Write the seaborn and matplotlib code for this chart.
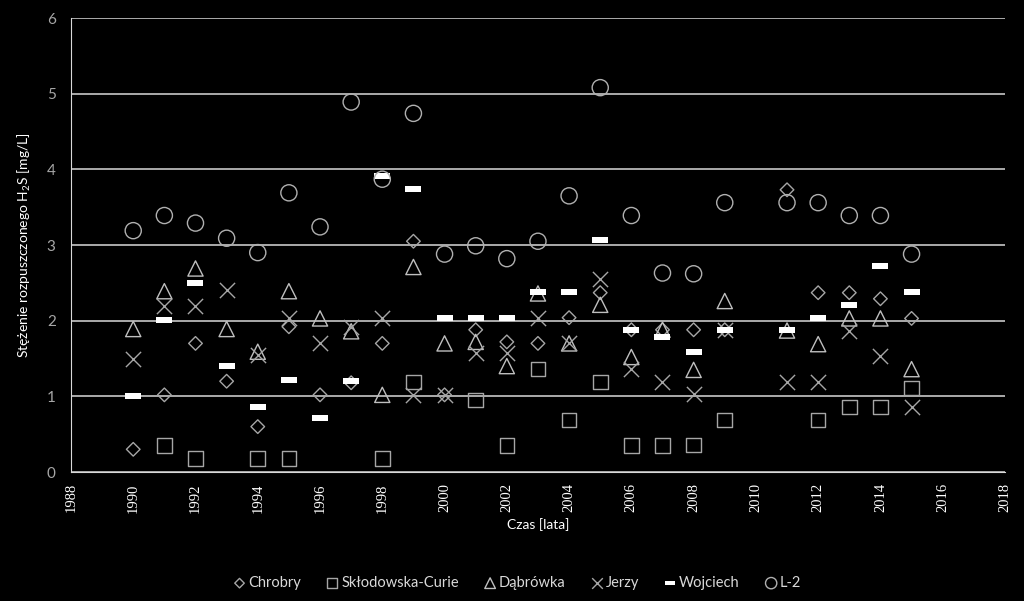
import numpy as np
import pandas as pd
import seaborn as sns
import matplotlib.pyplot as plt

# dane (rok, stezenie H2S mg/L)
lata = [1990, 1991, 1992, 1993, 1994, 1995, 1996, 1997, 1998, 1999, 2000, 2001, 2002,
        2003, 2004, 2005, 2006, 2007, 2008, 2009, 2011, 2012, 2013, 2014, 2015]

chrobry = [0.30, 1.02, 1.70, 1.20, 0.60, 1.92, 1.02, 1.18, 1.70, 3.05, 1.02, 1.88, 1.72,
           1.70, 2.04, 2.37, 1.88, 1.88, 1.88, 1.88, 3.73, 2.37, 2.37, 2.29, 2.03]
dabrowka = [1.89, 2.39, 2.69, 1.89, 1.59, 2.39, 2.03, 1.86, 1.02, 2.71, 1.70, 1.72, 1.40,
            2.36, 1.70, 2.21, 1.52, 1.88, 1.35, 2.26, 1.87, 1.69, 2.03, 2.03, 1.36]
jerzy = [1.50, 2.19, 2.19, 2.40, 1.55, 2.03, 1.70, 1.92, 2.04, 1.02, 1.02, 1.57, 1.57,
         2.04, 1.70, 2.55, 1.36, 1.19, 1.03, 1.88, 1.19, 1.19, 1.87, 1.53, 0.86]
wojciech = [1.01, 2.01, 2.50, 1.40, 0.86, 1.21, 0.71, 1.20, 3.91, 3.74, 2.04, 2.04, 2.04,
            2.38, 2.38, 3.06, 1.88, 1.79, 1.59, 1.88, 1.88, 2.04, 2.21, 2.72, 2.38]
l2 = [3.19, 3.39, 3.29, 3.09, 2.90, 3.69, 3.24, 4.89, 3.87, 4.74, 2.88, 2.99, 2.82,
      3.05, 3.65, 5.08, 3.39, 2.63, 2.62, 3.56, 3.56, 3.56, 3.39, 3.39, 2.88]

lata_sc = [1991, 1992, 1994, 1995, 1998, 1999, 2001, 2002, 2003, 2004, 2005, 2006, 2007,
           2008, 2009, 2012, 2013, 2014, 2015]
sklodowska = [0.35, 0.18, 0.18, 0.18, 0.18, 1.19, 0.95, 0.35, 1.36, 0.69, 1.19, 0.35, 0.35,
              0.36, 0.69, 0.69, 0.86, 0.86, 1.11]

serie = [
    ("Chrobry", lata, chrobry),
    ("Skłodowska-Curie", lata_sc, sklodowska),
    ("Dąbrówka", lata, dabrowka),
    ("Jerzy", lata, jerzy),
    ("Wojciech", lata, wojciech),
    ("L-2", lata, l2),
]

kreska = [(-1, -0.34), (1, -0.34), (1, 0.34), (-1, 0.34)]
styl = {
    "Chrobry": dict(marker="D", s=48, facecolor="none", edgecolor="#a6a6a6", linewidth=1.0),
    "Skłodowska-Curie": dict(marker="s", s=110, facecolor="none", edgecolor="#a6a6a6", linewidth=1.0),
    "Dąbrówka": dict(marker="^", s=120, facecolor="none", edgecolor="#bfbfbf", linewidth=1.0),
    "Jerzy": dict(marker="x", s=120, color="#a6a6a6", linewidth=1.0),
    "Wojciech": dict(marker=kreska, s=120, color="white", edgecolor="white", linewidth=0),
    "L-2": dict(marker="o", s=135, facecolor="none", edgecolor="#b0b0b0", linewidth=1.0),
}

sns.set_style("dark")
plt.rcParams['font.family'] = ['Lato', 'DejaVu Sans']
plt.rcParams['mathtext.fontset'] = 'custom'
plt.rcParams['mathtext.rm'] = 'Lato'

fig = plt.figure(figsize=(10.24, 6.01), dpi=100, facecolor="black")
ax = fig.add_axes([0.0693, 0.2146, 0.9121, 0.7554])
ax.set_facecolor("black")

for nazwa, x, y in serie:
    df = pd.DataFrame({"rok": x, "h2s": y})
    sns.scatterplot(data=df, x="rok", y="h2s", ax=ax, label=nazwa, zorder=3, **styl[nazwa])

ax.set_xlim(1988, 2018)
ax.set_ylim(0, 6)
ax.set_xticks(np.arange(1988, 2019, 2))
ax.set_yticks(np.arange(0, 7, 1))
ax.yaxis.grid(True, color="#d9d9d9", linewidth=1.1)
ax.xaxis.grid(False)
for s in ["top", "right"]:
    ax.spines[s].set_visible(False)
ax.spines["left"].set_color("#d9d9d9")
ax.spines["bottom"].set_color("#d9d9d9")
ax.spines["left"].set_visible(True)
ax.spines["bottom"].set_visible(True)
ax.tick_params(axis="both", direction="out", length=5, color="#d9d9d9", width=1)
ax.tick_params(axis="y", labelcolor="#a6a6a6", labelsize=11, pad=6)
ax.tick_params(axis="x", labelcolor="white", labelsize=10.5, rotation=90, pad=3)
for t in ax.get_xticklabels():
    t.set_family("Liberation Serif")

ax.set_xlabel("Czas [lata]", color="white", fontsize=10, labelpad=4)
ax.set_ylabel("Stężenie rozpuszczonego H$_\\mathregular{2}$S [mg/L]", color="white", fontsize=10, labelpad=10)

leg = ax.legend(loc="center", bbox_to_anchor=(0.505, 0.03), bbox_transform=fig.transFigure,
                ncol=6, frameon=False, fontsize=10.5, handlelength=0.9, handletextpad=0.15,
                columnspacing=1.7, markerscale=0.7)
for t in leg.get_texts():
    t.set_color("#d9d9d9")

fig.savefig("out.png", dpi=100, facecolor="black")
